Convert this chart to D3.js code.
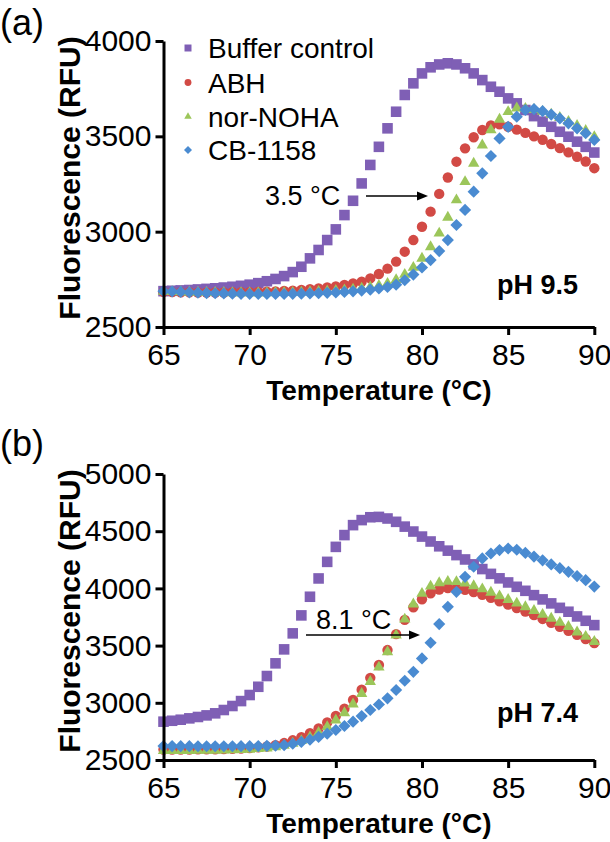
<!DOCTYPE html>
<html>
<head>
<meta charset="utf-8">
<script src="https://cdn.jsdelivr.net/npm/d3@7"></script>
<style>
  html, body { margin: 0; padding: 0; background: #fff; }
  svg { display: block; }
  text { font-family: "Liberation Sans", Arial, Helvetica, sans-serif; }
</style>
</head>
<body>
<svg id="chart" width="610" height="842"></svg>
<script>
// ---------- DATA ----------
const temperatures = [65,65.5,66,66.5,67,67.5,68,68.5,69,69.5,70,70.5,71,71.5,72,72.5,73,73.5,74,74.5,75,75.5,76,76.5,77,77.5,78,78.5,79,79.5,80,80.5,81,81.5,82,82.5,83,83.5,84,84.5,85,85.5,86,86.5,87,87.5,88,88.5,89,89.5,90];

const seriesNames = ["Buffer control", "ABH", "nor-NOHA", "CB-1158"];
const xTicks = [65, 70, 75, 80, 85, 90];
const yTicksA = [2500, 3000, 3500, 4000];
const yTicksB = [2500, 3000, 3500, 4000, 4500, 5000];

// Panel (a) pH 9.5
const aBuffer = [2688,2690,2692,2694,2697,2700,2703,2707,2711,2716,2722,2730,2740,2752,2767,2788,2816,2860,2904,2956,3012,3087,3162,3253,3350,3445,3542,3629,3717,3778,3830,3862,3877,3883,3877,3857,3830,3795,3760,3734,3699,3673,3638,3606,3577,3550,3524,3498,3472,3445,3415];
const aABH = [2684,2683,2682,2682,2681,2681,2681,2681,2682,2682,2683,2684,2685,2687,2689,2691,2694,2698,2702,2707,2713,2720,2728,2738,2755,2778,2806,2843,2895,2956,3026,3105,3198,3284,3367,3437,3495,3533,3557,3563,3550,3535,3518,3500,3482,3460,3438,3416,3393,3368,3333];
const aNor = [2686,2685,2684,2683,2682,2681,2680,2680,2679,2679,2679,2679,2679,2680,2680,2681,2682,2684,2686,2688,2691,2694,2698,2703,2709,2717,2728,2748,2775,2812,2860,2920,2992,3075,3166,3262,3358,3454,3533,3589,3629,3648,3646,3640,3630,3615,3598,3578,3556,3530,3498];
const aCB = [2688,2686,2684,2682,2680,2678,2677,2676,2675,2674,2674,2673,2673,2673,2673,2674,2675,2676,2677,2679,2681,2684,2687,2691,2696,2702,2710,2722,2745,2775,2812,2851,2898,2956,3035,3114,3210,3306,3397,3489,3550,3603,3638,3643,3632,3614,3594,3568,3542,3516,3481];

// Panel (b) pH 7.4
const bBuffer = [2835,2843,2852,2864,2876,2890,2908,2937,2972,3015,3068,3140,3234,3345,3467,3607,3764,3927,4087,4232,4363,4466,4553,4597,4622,4625,4611,4582,4540,4497,4453,4410,4368,4330,4291,4253,4210,4169,4127,4088,4052,4014,3979,3941,3904,3869,3830,3796,3755,3717,3679];
const bABH = [2592,2592,2592,2592,2593,2593,2594,2595,2597,2600,2604,2610,2618,2630,2648,2672,2700,2735,2775,2828,2885,2948,3025,3115,3218,3330,3461,3600,3725,3835,3905,3958,3990,4003,4002,3988,3968,3944,3917,3888,3858,3828,3797,3766,3733,3700,3665,3630,3595,3558,3522];
const bNor = [2582,2582,2582,2582,2583,2583,2584,2585,2587,2590,2593,2598,2604,2613,2626,2645,2668,2700,2740,2790,2848,2912,2988,3080,3185,3310,3445,3590,3730,3862,3955,4018,4048,4060,4058,4045,4022,3995,3965,3934,3902,3870,3838,3806,3772,3738,3702,3666,3618,3580,3535];
const bCB = [2622,2622,2621,2621,2620,2620,2620,2620,2620,2621,2621,2622,2624,2626,2630,2642,2658,2678,2702,2730,2762,2797,2835,2884,2937,2985,3039,3112,3193,3271,3388,3525,3688,3839,3970,4101,4189,4262,4305,4335,4349,4338,4310,4278,4245,4210,4177,4145,4108,4072,4016];

const colors = ["#7f5fb5", "#d24a45", "#9cc65a", "#4a8bd1"];
const shapes = ["square", "circle", "triangle", "diamond"];

// ---------- DRAW ----------
const svg = d3.select("#chart");
svg.append("rect").attr("width", 610).attr("height", 842).attr("fill", "#fff");

const x = d3.scaleLinear().domain([65, 90]).range([163.5, 594.3]);

function symbolPath(shape, big) {
  const s = big ? 1 : 0.66;
  if (shape === "square") return d3.symbol(d3.symbolSquare, 112 * s * s)();
  if (shape === "circle") return d3.symbol(d3.symbolCircle, 85 * s * s)();
  if (shape === "triangle") return d3.symbol(d3.symbolTriangle, 56 * s * s)();
  return d3.symbol(d3.symbolSquare, 74 * s * s)();
}
function symbolRot(shape) { return shape === "diamond" ? " rotate(45)" : ""; }

function drawPanel(opt) {
  const g = svg.append("g");
  const y = d3.scaleLinear().domain(opt.yDomain).range(opt.yRange);

  // series
  opt.series.forEach((vals, i) => {
    g.append("g").selectAll("path")
      .data(vals)
      .join("path")
      .attr("d", symbolPath(shapes[i], true))
      .attr("transform", (d, j) => `translate(${x(temperatures[j])},${y(d)})` + symbolRot(shapes[i]))
      .attr("fill", colors[i]);
  });

  // axes
  const yAxis = g.append("g")
    .attr("transform", `translate(${x(65)},0)`)
    .call(d3.axisLeft(y).tickValues(opt.yTicks).tickSize(8).tickSizeOuter(0).tickPadding(4).tickFormat(d3.format("d")));
  const xAxis = g.append("g")
    .attr("transform", `translate(0,${y(opt.yDomain[0])})`)
    .call(d3.axisBottom(x).tickValues(xTicks).tickSize(8).tickSizeOuter(0).tickPadding(9).tickFormat(d3.format("d")));
  [yAxis, xAxis].forEach(a => {
    a.select(".domain").attr("stroke", "#000").attr("stroke-width", 3);
    a.selectAll(".tick line").attr("stroke", "#000").attr("stroke-width", 3);
    a.selectAll(".tick text").attr("font-size", 30).attr("fill", "#000")
      .attr("font-family", "Liberation Sans, Arial, sans-serif");
  });

  // axis titles
  g.append("text")
    .attr("x", (x(65) + x(90)) / 2)
    .attr("y", y(opt.yDomain[0]) + 73)
    .attr("text-anchor", "middle")
    .attr("font-size", 28).attr("font-weight", "bold")
    .text("Temperature (°C)");
  g.append("text")
    .attr("transform", `translate(80,${(opt.yRange[0] + opt.yRange[1]) / 2 - 6}) rotate(-90)`)
    .attr("text-anchor", "middle")
    .attr("font-size", 30).attr("font-weight", "bold")
    .text("Fluorescence (RFU)");

  // panel label
  svg.append("text").attr("x", 0).attr("y", opt.labelY)
    .attr("font-size", 36).text(opt.label);

  // pH label
  g.append("text").attr("x", 578).attr("y", opt.phY)
    .attr("text-anchor", "end")
    .attr("font-size", 27).attr("font-weight", "bold")
    .text(opt.ph);

  // shift annotation
  g.append("text").attr("x", opt.shiftText[0]).attr("y", opt.shiftText[1])
    .attr("font-size", 27).text(opt.shift);
  const ay = opt.arrow[2];
  g.append("line")
    .attr("x1", opt.arrow[0]).attr("x2", opt.arrow[1] - 8)
    .attr("y1", ay).attr("y2", ay)
    .attr("stroke", "#000").attr("stroke-width", 1.6);
  g.append("path")
    .attr("d", `M${opt.arrow[1]},${ay} L${opt.arrow[1] - 11},${ay - 4.5} L${opt.arrow[1] - 11},${ay + 4.5} Z`)
    .attr("fill", "#000");

  return g;
}

drawPanel({
  yDomain: [2500, 4000], yRange: [327, 41], yTicks: yTicksA,
  series: [aBuffer, aABH, aNor, aCB],
  label: "(a)", labelY: 35, ph: "pH 9.5", phY: 294,
  shift: "3.5 °C", shiftText: [265, 205], arrow: [366, 428, 196]
});
drawPanel({
  yDomain: [2500, 5000], yRange: [760, 474], yTicks: yTicksB,
  series: [bBuffer, bABH, bNor, bCB],
  label: "(b)", labelY: 456, ph: "pH 7.4", phY: 722,
  shift: "8.1 °C", shiftText: [316, 629], arrow: [306, 420, 635]
});

// legend (panel a)
const legY = [48, 82.5, 116.5, 150];
const leg = svg.append("g");
seriesNames.forEach((name, i) => {
  leg.append("path")
    .attr("d", symbolPath(shapes[i], false))
    .attr("transform", `translate(188,${legY[i]})` + symbolRot(shapes[i]))
    .attr("fill", colors[i]);
  leg.append("text")
    .attr("x", 208).attr("y", legY[i] + 10)
    .attr("font-size", 28).attr("fill", "#000")
    .text(name);
});
</script>
</body>
</html>
